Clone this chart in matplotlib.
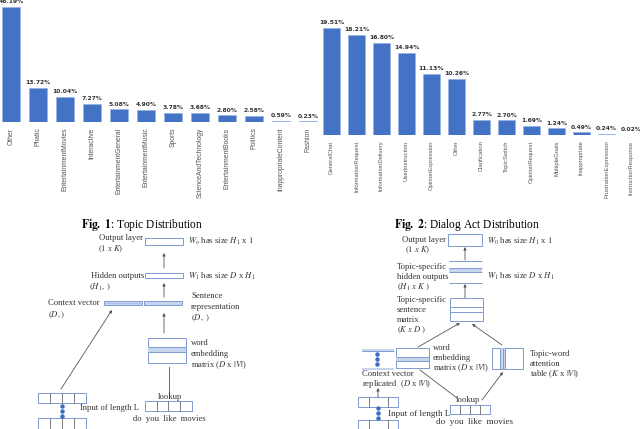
import matplotlib
matplotlib.use("Agg")
from matplotlib import pyplot as plt
from matplotlib.patches import Rectangle

plt.rcParams['font.family'] = ['Liberation Serif', 'DejaVu Serif']
plt.rcParams['mathtext.fontset'] = 'stix'

topics = ["Other", "Phatic", "EntertainmentMovies", "Interactive", "EntertainmentGeneral",
          "EntertainmentMusic", "Sports", "ScienceAndTechnology", "EntertainmentBooks",
          "Politics", "InappropriateContent", "Fashion"]
topic_pct = [46.19, 13.72, 10.04, 7.27, 5.08, 4.90, 3.78, 3.68, 2.80, 2.58, 0.59, 0.23]

acts = ["GeneralChat", "InformationRequest", "InformationDelivery", "UserInstruction",
        "OpinionExpression", "Other", "Clarification", "TopicSwitch", "OpinionRequest",
        "MultipleGoals", "Inappropriate", "FrustrationExpression", "InstructionResponse"]
act_pct = [19.51, 18.21, 16.80, 14.94, 11.13, 10.26, 2.77, 2.70, 1.69, 1.24, 0.49, 0.24, 0.02]

W, H = 640, 429
BAR = '#4472c4'
EC = '#7f9bd0'
BAND = '#c8d5ee'
TXT = '#333333'

fig = plt.figure(figsize=(6.4, 4.29), dpi=100)

# full-figure axes in pixel coords for diagrams and captions
ax0 = fig.add_axes([0, 0, 1, 1])
ax0.set_xlim(0, W)
ax0.set_ylim(H, 0)
ax0.axis('off')


def bar_chart(cats, vals, x_left, x_right, c0, step, base, pxper, width, lab_fs):
    left = (x_left - c0) / step
    right = (x_right - c0) / step
    ax = fig.add_axes([x_left / W, (H - base) / H, (x_right - x_left) / W, base / H])
    ax.bar(range(len(vals)), vals, width=width, color=BAR, edgecolor='#8fb0e4', lw=0.4)
    for i, v in enumerate(vals):
        ax.annotate(f"{v:.2f}%", (i, v), xytext=(0, 1.8), textcoords='offset points',
                    ha='center', va='bottom', fontsize=4.3, fontweight='bold',
                    family='DejaVu Sans', color=TXT, annotation_clip=False)
    ax.set_xlim(left, right)
    ax.set_ylim(0, base / pxper)
    ax.set_xticks(range(len(cats)))
    ax.set_xticklabels(cats, rotation=90, fontsize=lab_fs, color='#555555',
                       family=['Liberation Sans', 'DejaVu Sans'])
    ax.tick_params(axis='x', length=0, pad=4)
    ax.set_yticks([])
    for s in ax.spines.values():
        s.set_visible(False)
    ax.patch.set_alpha(0)
    return ax


bar_chart(topics, topic_pct, 0, 320, 11, 27, 122, 2.5, 0.67, 4.9)
bar_chart(acts, act_pct, 320, 640, 331.5, 25, 135, 5.5, 0.68, 4.2)

ax0.text(142, 225, r"$\mathbf{Fig.\ 1}$: Topic Distribution", ha='center', va='center', fontsize=8.3)
ax0.text(467, 225, r"$\mathbf{Fig.\ 2}$: Dialog Act Distribution", ha='center', va='center', fontsize=8.3)


def rect(x0, y0, x1, y1, fc='none', lw=0.7):
    ax0.add_patch(Rectangle((x0, y0), x1 - x0, y1 - y0, fc=fc, ec=EC, lw=lw))


def hl(x0, x1, y, c=EC, lw=0.7):
    ax0.plot([x0, x1], [y, y], color=c, lw=lw, solid_capstyle='butt')


def vl(x, y0, y1, c=EC, lw=0.7):
    ax0.plot([x, x], [y0, y1], color=c, lw=lw, solid_capstyle='butt')


def cells(x0, y0, x1, y1, xs):
    rect(x0, y0, x1, y1)
    for x in xs:
        vl(x, y0, y1, c='#666666', lw=0.6)


def arrow(x0, y0, x1, y1):
    ax0.annotate('', xy=(x1, y1), xytext=(x0, y0),
                 arrowprops=dict(arrowstyle='-|>', color='#555555', lw=0.6, mutation_scale=4,
                                 shrinkA=0, shrinkB=0))


def line(x0, y0, x1, y1):
    ax0.plot([x0, x1], [y0, y1], color='#555555', lw=0.6)


def dots(x, y0, y1):
    ax0.plot([x, x, x], [y0, (y0 + y1) / 2, y1], 'o', color='#3b6cc4', ms=2.2)


def t(x, y, s, ha='left', fs=6.2):
    ax0.text(x, y, s, ha=ha, va='center', fontsize=fs, color=TXT)


# ---------- diagram 1 ----------
rect(145, 238, 183, 245)
t(143, 238.5, "Output layer", ha='right')
t(98, 249.5, r"$(1\ x\ K)$")
t(188, 241, r"$W_o$ has size $H_1$ x $1$")
arrow(164, 268, 164, 253)

rect(145, 273, 183, 278)
t(144, 276, "Hidden outputs", ha='right')
t(89, 287, r"$(H_1,\ )$")
t(188, 276, r"$W_1$ has size $D$ x $H_1$")
arrow(164, 297, 164, 283)

rect(104, 301, 142, 305, fc=BAND)
hl(105, 141, 303, c='#a9bde3', lw=0.6)
rect(144, 301, 182, 305, fc=BAND)
t(100, 303, "Context vector", ha='right')
t(48, 315, r"$(D,)$")
t(191, 296, "Sentence")
t(191, 307, "representation")
t(191, 318, r"$(D,\ )$")
arrow(164, 333, 164, 313)

rect(148, 338, 186, 363)
ax0.add_patch(Rectangle((148, 347), 38, 5, fc=BAND, ec='none'))
hl(148, 186, 347)
hl(148, 186, 352)
t(191, 343, "word")
t(191, 354, "embedding")
t(191, 365, r"matrix ($D$ x $|V|$)")
line(169, 398, 169, 367)
t(170, 397, "lookup", ha='center')

cells(145, 401, 192, 411, [157, 168, 180])
t(139, 408, "Input of length L", ha='right')
t(169, 419, "do  you  like  movies", ha='center')

cells(38, 393, 86, 403, [50, 62, 74])
dots(62, 406, 416)
cells(38, 418, 86, 432, [50, 62, 74])
arrow(61, 389, 112, 310)

# ---------- diagram 2 ----------
rect(448, 234, 482, 246)
t(446, 240, "Output layer", ha='right')
t(405, 250, r"$(1\ x\ K)$")
t(487, 241, r"$W_0$ has size $H_1$ x $1$")
arrow(465, 260, 465, 247)

hl(449, 482, 261)
ax0.add_patch(Rectangle((449, 268), 33, 4, fc=BAND, ec='none'))
hl(449, 482, 268)
hl(449, 482, 272)
hl(449, 482, 283)
t(397, 267, "Topic-specific")
t(397, 277, "hidden outputs")
t(397, 287, r"$(H_1\ x\ K\ )$")
t(487, 276, r"$W_1$ has size $D$ x $H_1$")
arrow(465, 298, 465, 284)

rect(450, 298, 483, 321)
hl(450, 483, 307)
hl(450, 483, 312)
t(397, 300, "Topic-specific")
t(397, 310, "sentence")
t(397, 320, "matrix")
t(397, 330, r"$(K\ x\ D\ )$")
arrow(418, 347, 460, 323)
arrow(502, 345, 472, 324)

ax0.add_patch(Rectangle((362, 349), 32, 2.5, fc=BAND, ec='none'))
hl(362, 394, 351)
hl(362, 394, 369, c=BAND, lw=1.5)
dots(377, 354, 364)

rect(396, 348, 429, 368)
ax0.add_patch(Rectangle((396, 357), 33, 4, fc=BAND, ec='none'))
hl(396, 429, 357)
hl(396, 429, 361)
t(433, 348, "word")
t(433, 358, "embedding")
t(433, 368, r"matrix ($D$ x $|V|$)")

rect(492, 348, 523, 369)
ax0.add_patch(Rectangle((500, 348), 5, 21, fc=BAND, ec='none'))
vl(500, 348, 369)
vl(502.5, 348, 369)
vl(505, 348, 369)
t(530, 354, "Topic-word")
t(530, 364, "attention")
t(530, 374, r"table ($K$ x $|V|$)")

t(362, 374, "Context vector")
t(362, 384, r"replicated  ($D$ x $|V|$)")
arrow(378, 397, 378, 388)
line(420, 370, 457, 398)
arrow(482, 400, 503, 372)
t(468, 400, "lookup", ha='center')

cells(450, 405, 490, 414, [460, 470, 480])
t(388, 414, "Input of length L", fs=6.6)
t(475, 422, "do  you  like  movies", ha='center', fs=6.6)

cells(358, 397, 398, 407, [369, 388])
dots(378, 408, 418)
cells(358, 420, 398, 432, [369, 388])

fig.savefig("out.png", dpi=100)
